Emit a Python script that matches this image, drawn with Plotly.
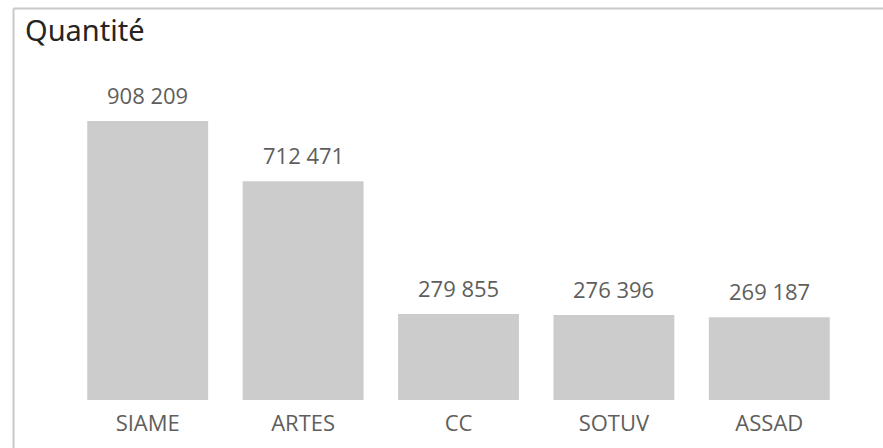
import plotly.graph_objects as go

categories = ["SIAME", "ARTES", "CC", "SOTUV", "ASSAD"]
values = [908209, 712471, 279855, 276396, 269187]
value_labels = ["908 209", "712 471", "279 855", "276 396", "269 187"]

W, H = 883, 448
ml, mr, mt, mb = 70, 36, 60, 48
plot_w = W - ml - mr
plot_h = H - mt - mb
ymax = values[0] * plot_h / 279.0

label_font = dict(family="Open Sans, Noto Sans, sans-serif", size=22, color="#605E5C")

fig = go.Figure(go.Bar(
    x=categories, y=values,
    marker=dict(color="#cccccc", line=dict(width=0)),
    hoverinfo="skip",
))

for c, v, t in zip(categories, values, value_labels):
    fig.add_annotation(x=c, y=v, text=t, showarrow=False, yanchor="bottom",
                       yshift=9, font=label_font)

def px_x(p):
    return (p - ml) / plot_w

def px_y(p):
    return (H - mb - p) / plot_h

border = "#c8c8c8"
fig.add_shape(type="line", xref="paper", yref="paper",
              x0=px_x(13.5), x1=px_x(900), y0=px_y(8.5), y1=px_y(8.5),
              line=dict(color=border, width=2))
fig.add_shape(type="line", xref="paper", yref="paper",
              x0=px_x(13.5), x1=px_x(13.5), y0=px_y(8.5), y1=px_y(460),
              line=dict(color=border, width=2))

fig.update_layout(
    width=W, height=H,
    margin=dict(l=ml, r=mr, t=mt, b=mb),
    paper_bgcolor="white", plot_bgcolor="white",
    bargap=0.222,
    showlegend=False,
    title=dict(text="Quantité", x=25 / W, xanchor="left", y=1 - 31 / H, yanchor="middle",
               font=dict(family="Noto Sans, Open Sans, sans-serif", size=29, color="#252423")),
    xaxis=dict(showgrid=False, zeroline=False, showline=False, ticks="",
               ticklabelstandoff=8, tickfont=label_font),
    yaxis=dict(visible=False, range=[0, ymax]),
)

fig.write_html("out.html", config={"displayModeBar": False},
               post_script="document.body.style.margin='0';")
